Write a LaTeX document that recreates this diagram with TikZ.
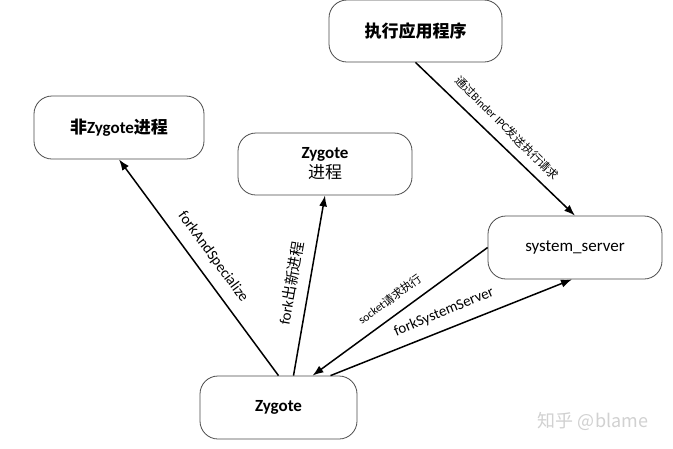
\documentclass[tikz,border=0pt]{standalone}
\usepackage{fontspec}
\setmainfont{Carlito}
\newfontfamily\cjk{Noto Sans CJK SC}
\usetikzlibrary{arrows.meta}
\begin{document}
\begin{tikzpicture}[x=1pt,y=-1pt,
  box/.style={draw=black!70, line width=0.8pt, rounded corners=18pt, fill=white,
              align=center, inner sep=0pt, font=\fontsize{17}{21}\selectfont},
  conn/.style={line width=1.5pt, draw=black, -{Latex[length=11pt,width=8pt]}},
  lbl/.style={inner sep=1pt, font=\fontsize{15}{18}\selectfont},
  slbl/.style={inner sep=1pt, font=\fontsize{11.5}{13}\selectfont}]
\useasboundingbox (0,0) rectangle (673,448);
\fill[white] (0,0) rectangle (673,448);

\node[box, minimum width=170pt, minimum height=63pt] (nonzyg) at (119,127.5)
  {\bfseries{\cjk\bfseries 非}Zygote{\cjk\bfseries 进程}};
\node[box, minimum width=174pt, minimum height=62pt] (zp) at (325,164)
  {\bfseries Zygote\\[-1pt]{\cjk 进程}};
\node[box, minimum width=173pt, minimum height=62pt] (app) at (415.5,31)
  {{\cjk\bfseries 执行应用程序}};
\node[box, minimum width=174pt, minimum height=63pt] (ss) at (575,247.5)
  {system\_server};
\node[box, minimum width=157pt, minimum height=63pt] (zyg) at (278.5,407.5)
  {\bfseries Zygote};

\draw[conn] (zyg.north) -- (nonzyg.south);
\draw[conn] ([xshift=15pt]zyg.north) -- (zp.south);
\draw[conn] (ss.west) -- ([xshift=34pt]zyg.north);
\draw[conn] ([xshift=52pt]zyg.north) -- ([xshift=-3pt]ss.south);
\draw[conn] (app.south) -- (ss.north);

\node[lbl, rotate=-53.7] (l1) at (213,257) {forkAndSpecialize};
\node[lbl, rotate=80] (l2) at (291,283) {fork{\cjk 出新进程}};
\node[slbl, rotate=36] (l3) at (390,299) {socket{\cjk 请求执行}};
\node[lbl, rotate=22.5] (l4) at (444,312) {forkSystemServer};
\node[slbl, rotate=-44.7] (l5) at (507,128) {{\cjk 通过}Binder IPC{\cjk 发送执行请求}};

\node[text=black!18, font=\cjk\fontsize{18}{20}\selectfont] (wm) at (593,421) {知乎 @blame};
\end{tikzpicture}
\end{document}
